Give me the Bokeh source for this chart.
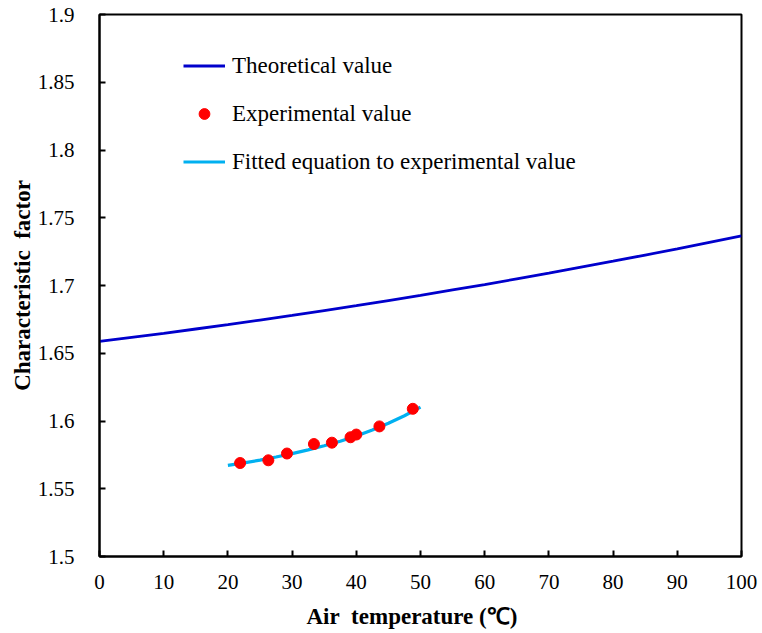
from bokeh.plotting import figure
from bokeh.models import FixedTicker, Legend, LegendItem, Range1d
from bokeh.embed import file_html
from bokeh.resources import INLINE

# Data
theory_x = [0, 5, 10, 15, 20, 25, 30, 35, 40, 45, 50, 55, 60, 65, 70, 75, 80, 85, 90, 95, 100]
theory_y = [1.6587, 1.6617, 1.6647, 1.6679, 1.6711, 1.6745, 1.6779, 1.6815, 1.6851, 1.6889,
            1.6927, 1.6967, 1.7007, 1.7049, 1.7091, 1.7135, 1.7179, 1.7225, 1.7271, 1.7319, 1.7367]

exp_x = [21.9, 26.3, 29.2, 33.4, 36.2, 39.1, 40.0, 43.6, 48.8]
exp_y = [1.569, 1.571, 1.576, 1.583, 1.584, 1.588, 1.590, 1.596, 1.609]

fit_x = [20, 22.5, 25, 27.5, 30, 32.5, 35, 37.5, 40, 42.5, 45, 47.5, 50]
fit_y = [1.5672, 1.5691, 1.5711, 1.5734, 1.5759, 1.5787, 1.5817, 1.5851, 1.5890,
         1.5934, 1.5983, 1.6039, 1.6102]

x_ticks = [0, 10, 20, 30, 40, 50, 60, 70, 80, 90, 100]
y_ticks = [1.5, 1.55, 1.6, 1.65, 1.7, 1.75, 1.8, 1.85, 1.9]
y_tick_labels = ["1.5", "1.55", "1.6", "1.65", "1.7", "1.75", "1.8", "1.85", "1.9"]

FONT = "Liberation Serif"

p = figure(width=762, height=633, output_backend="svg", toolbar_location=None,
           x_range=Range1d(0, 100), y_range=Range1d(1.5, 1.9),
           min_border_left=99, min_border_right=21, min_border_top=14, min_border_bottom=77)

p.xgrid.visible = False
p.ygrid.visible = False
p.outline_line_color = "black"
p.outline_line_width = 2
p.background_fill_color = "white"
p.border_fill_color = "white"

for ax in (p.xaxis[0], p.yaxis[0]):
    ax.axis_line_width = 2
    ax.axis_line_color = "black"
    ax.major_tick_in = 6
    ax.major_tick_out = 0
    ax.major_tick_line_width = 2
    ax.minor_tick_line_color = None
    ax.major_label_text_font = FONT
    ax.major_label_text_font_size = "21px"
    ax.major_label_text_color = "black"
    ax.axis_label_text_font = FONT
    ax.axis_label_text_font_style = "bold"
    ax.axis_label_text_font_size = "23px"
    ax.axis_label_text_color = "black"

p.xaxis.ticker = FixedTicker(ticks=x_ticks)
p.yaxis.ticker = FixedTicker(ticks=y_ticks)
p.yaxis.major_label_overrides = {t: l for t, l in zip(y_ticks, y_tick_labels)}
p.xaxis.major_label_standoff = 18
p.yaxis.major_label_standoff = 25
p.xaxis.axis_label = "Air\u00a0 temperature (\u2103)\u00a0\u00a0\u00a0"
p.yaxis.axis_label = "Characteristic\u00a0 factor"
p.xaxis.axis_label_standoff = 12
p.yaxis.axis_label_standoff = 0

r_theory = p.line(theory_x, theory_y, line_color="#0000CC", line_width=2.8)
r_fit = p.line(fit_x, fit_y, line_color="#00B0F0", line_width=3.2)
r_exp = p.scatter(exp_x, exp_y, size=11, fill_color="#FF0000", line_color="#FF0000")

legend = Legend(items=[
    LegendItem(label="Theoretical value", renderers=[r_theory]),
    LegendItem(label="Experimental value", renderers=[r_exp]),
    LegendItem(label="Fitted equation to experimental value", renderers=[r_fit]),
], location=(84, 381))
legend.border_line_color = None
legend.background_fill_alpha = 0
legend.padding = 0
legend.margin = 0
legend.spacing = 21
legend.glyph_width = 42
legend.glyph_height = 27
legend.label_height = 27
legend.label_standoff = 7
legend.label_text_font = FONT
legend.label_text_font_size = "23px"
legend.label_text_color = "black"
p.add_layout(legend)

open("out.html", "w").write(file_html(p, INLINE))
